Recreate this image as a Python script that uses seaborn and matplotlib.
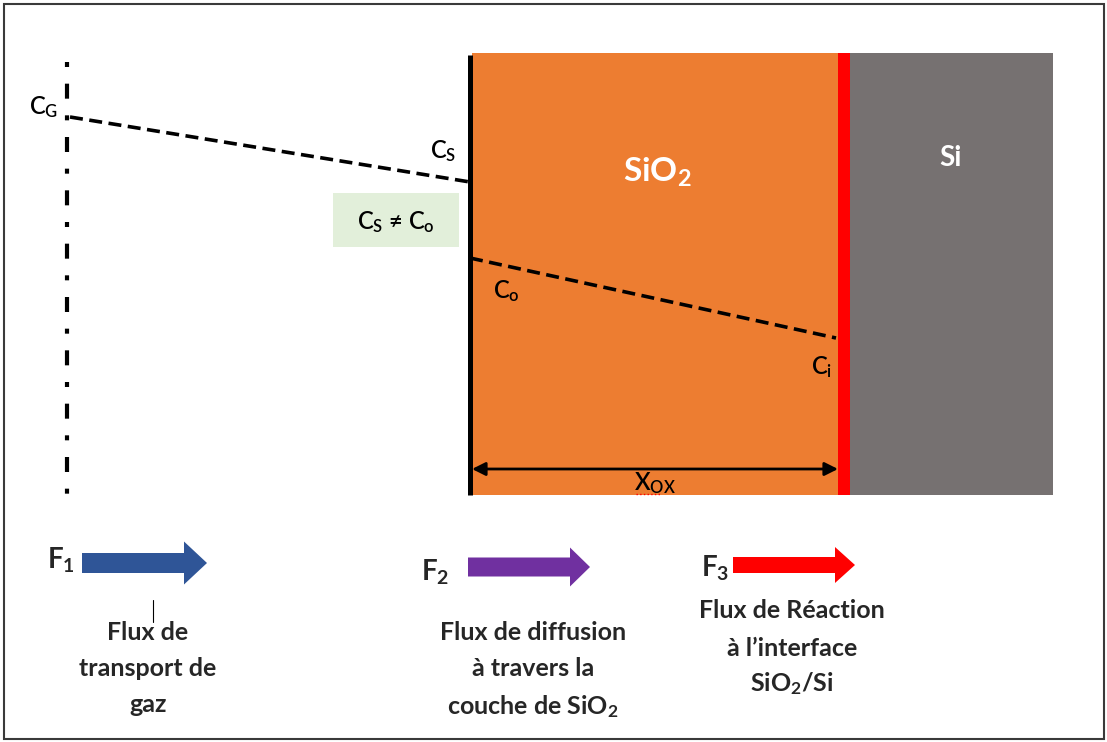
import matplotlib.pyplot as plt
import matplotlib.patches as mpatches
import numpy as np
import pandas as pd
import seaborn as sns

# concentration profiles (pixel-like units, y grows downward)
gas_x = [70, 470]
gas_c = [117, 182]
oxide_x = [470, 836]
oxide_c = [258, 338]

# layers: name, x start, x end, colour
layer_names = ['SiO$\\mathregular{_2}$', 'Si']
layer_x0 = [472, 850]
layer_x1 = [838, 1053]
layer_colors = ['#ED7D31', '#767171']

# fluxes
flux_labels = ['F$\\mathregular{_1}$', 'F$\\mathregular{_2}$', 'F$\\mathregular{_3}$']
flux_colors = ['#2F5597', '#7030A0', '#FF0000']
flux_text = [
    ['Flux de', 'transport de', 'gaz'],
    ['Flux de diffusion', 'à travers la', 'couche de SiO$\\mathregular{_2}$'],
    ['Flux de Réaction', 'à l\u2019interface', 'SiO$\\mathregular{_2}$/Si'],
]

sns.set_theme(style="white")
plt.rcParams['font.family'] = ['Lato', 'DejaVu Sans']
plt.rcParams['mathtext.fontset'] = 'custom'
plt.rcParams['mathtext.rm'] = 'Lato'
plt.rcParams['mathtext.bf'] = 'Lato:bold'

fig = plt.figure(figsize=(11.07, 7.42), dpi=100)
ax = fig.add_axes([0, 0, 1, 1])
ax.set_xlim(0, 1107)
ax.set_ylim(742, 0)
ax.axis('off')

# frame
ax.add_patch(mpatches.Rectangle((4, 4), 1100, 735, fill=False, ec='#3a3a3a', lw=1.5))

# layers
top, bottom = 53, 495
for x0, x1, c in zip(layer_x0, layer_x1, layer_colors):
    ax.add_patch(mpatches.Rectangle((x0, top), x1 - x0, bottom - top, color=c, lw=0))
ax.add_patch(mpatches.Rectangle((838, top), 12, bottom - top, color='#FF0000', lw=0))
ax.plot([470, 470], [55, 495], color='black', lw=3.6, solid_capstyle='butt')

ax.text(657, 172, layer_names[0], color='white', fontsize=24, fontweight='bold', ha='center', va='center')
ax.text(950, 158, layer_names[1], color='white', fontsize=20, fontweight='bold', ha='center', va='center')

# gas boundary (dash-dot)
ax.plot([67, 67], [62, 495], color='black', lw=3, linestyle=(0, (1.2, 4, 3.6, 4)),
        dash_capstyle='butt')

# profiles
sns.lineplot(x=gas_x, y=gas_c, ax=ax, color='black', lw=2.6, linestyle=(0, (3.6, 1.8)))
sns.lineplot(x=oxide_x, y=oxide_c, ax=ax, color='black', lw=2.6, linestyle=(0, (3.6, 1.8)))

lab = dict(fontsize=17, fontweight='semibold', color='black', ha='center', va='center')
ax.text(44, 107, 'C$\\mathregular{_G}$', **lab)
ax.text(443, 151, 'C$\\mathregular{_S}$', **lab)
ax.text(506, 291, 'C$\\mathregular{_o}$', **lab)
ax.text(822, 367, 'C$\\mathregular{_i}$', **lab)

ax.add_patch(mpatches.Rectangle((333, 193), 126, 54, color='#E2EFDA', lw=0))
ax.text(396, 222, 'C$\\mathregular{_S}$ \u2260 C$\\mathregular{_o}$', **lab)

# thickness
ax.annotate('', xy=(838, 469), xytext=(472, 469),
            arrowprops=dict(arrowstyle='<|-|>', lw=2, color='black', mutation_scale=20,
                            shrinkA=0, shrinkB=0))
ax.text(655, 483, 'X$\\mathregular{_{OX}}$', **lab)
ax.plot([636, 660], [494, 494], color='red', lw=1, linestyle=':')

# flux arrows
fx0 = [82, 468, 733]
fx1 = [207, 590, 855]
fy = [563, 567, 565]
fw = [20, 19, 16]
fhw = [43, 39, 36]
fhl = [23, 20, 20]
flx = [61, 435, 715]
fly = [560, 572, 568]
for i in range(3):
    ax.add_patch(mpatches.FancyArrow(fx0[i], fy[i], fx1[i] - fx0[i], 0, width=fw[i],
                                     head_width=fhw[i], head_length=fhl[i],
                                     length_includes_head=True, color=flux_colors[i], lw=0))
    ax.text(flx[i], fly[i], flux_labels[i], fontsize=20, fontweight='bold', ha='center', va='center')

tx = [148, 533, 792]
ty = [[632, 668, 705], [632, 669, 707], [611, 648, 684]]
for i in range(3):
    for t, y in zip(flux_text[i], ty[i]):
        ax.text(tx[i], y, t, fontsize=18, fontweight='bold', ha='center', va='center')

# cursor mark
ax.plot([153, 153], [600, 622], color='black', lw=0.8)

fig.savefig('out.png', dpi=100)
